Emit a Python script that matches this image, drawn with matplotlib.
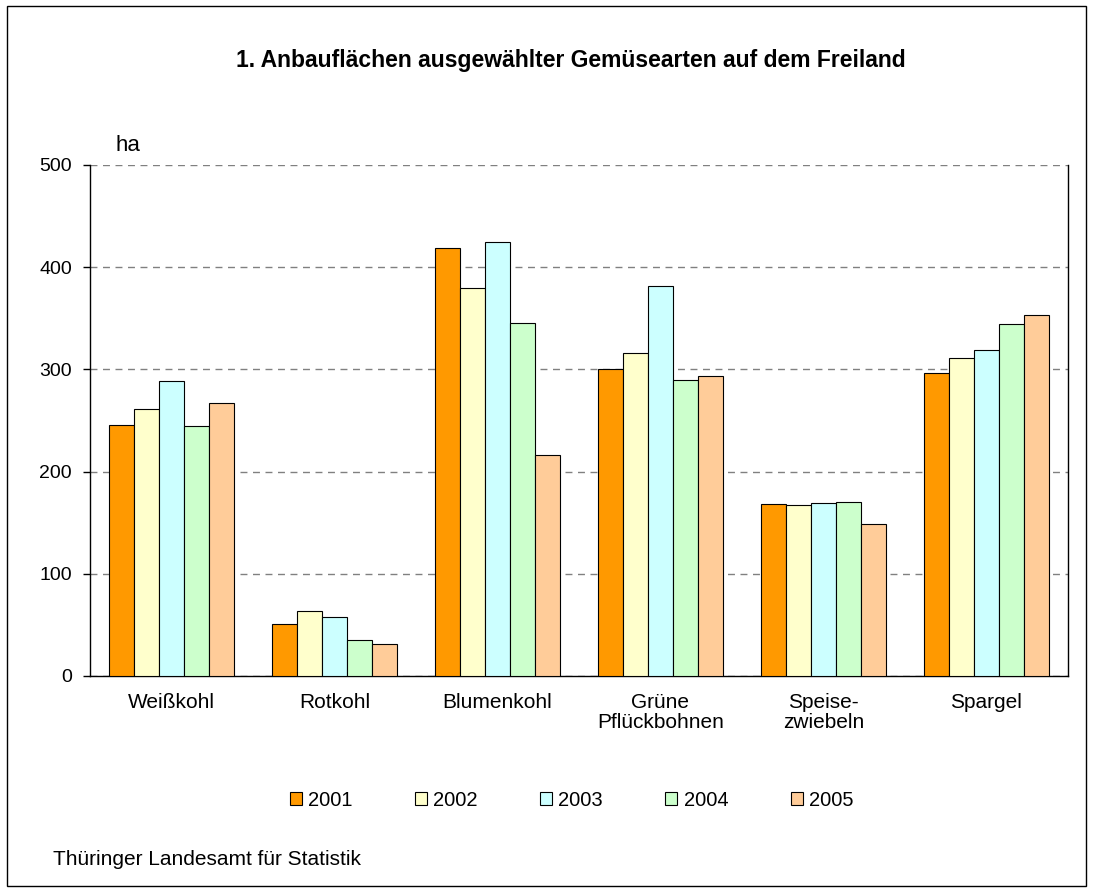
import numpy as np
import matplotlib.pyplot as plt
from matplotlib.patches import Rectangle

plt.rcParams['font.family'] = ['Liberation Sans', 'DejaVu Sans']

categories = ["Weißkohl", "Rotkohl", "Blumenkohl", "Grüne\nPflückbohnen", "Speise-\nzwiebeln", "Spargel"]
years = ["2001", "2002", "2003", "2004", "2005"]
v2001 = [246, 51, 419, 300, 168, 296]
v2002 = [261, 64, 380, 316, 167, 311]
v2003 = [289, 58, 425, 382, 169, 319]
v2004 = [245, 35, 345, 290, 170, 344]
v2005 = [267, 31, 216, 293, 149, 353]
colors = ["#FF9900", "#FFFFCC", "#CCFFFF", "#CCFFCC", "#FFCC99"]

series = [v2001, v2002, v2003, v2004, v2005]

fig = plt.figure(figsize=(10.93, 8.92), dpi=100)
# Rahmen um die ganze Grafik
fig.patches.append(Rectangle((0.0065, 0.0065), 0.987, 0.987, transform=fig.transFigure,
                             fill=False, edgecolor="black", linewidth=1.0))

ax = fig.add_axes([0.0823, 0.2422, 0.8948, 0.5729])

x = np.arange(len(categories))
w = 0.153
for i, (vals, c) in enumerate(zip(series, colors)):
    ax.bar(x + (i - 2) * w, vals, width=w, color=c, edgecolor="black", linewidth=0.8,
           label=years[i], zorder=3)

ax.set_xlim(-0.5, len(categories) - 0.5)
ax.set_ylim(0, 500)
ax.set_yticks([0, 100, 200, 300, 400, 500])
ax.yaxis.grid(True, linestyle=(0, (5, 4)), color="#808080", linewidth=1.0, zorder=0)
ax.set_xticks(x)
ax.set_xticklabels(categories, fontsize=15, linespacing=1.12)
ax.tick_params(axis="x", length=0, pad=12)
ax.tick_params(axis="y", labelsize=14, length=5, width=1, pad=8)
ax.spines["top"].set_visible(False)
for s in ["left", "right", "bottom"]:
    ax.spines[s].set_linewidth(1.0)

fig.text(0.522, 0.932, "1. Anbauflächen ausgewählter Gemüsearten auf dem Freiland",
         ha="center", va="center", fontsize=16.5, fontweight="bold")
fig.text(0.106, 0.837, "ha", ha="left", va="center", fontsize=16)
fig.text(0.0485, 0.036, "Thüringer Landesamt für Statistik", ha="left", va="center", fontsize=15)

fig.legend(loc="center", bbox_to_anchor=(0.523, 0.103), ncol=5, frameon=False,
           fontsize=14.5, handlelength=0.6, handleheight=0.6, handletextpad=0.3,
           columnspacing=3.1, borderpad=0, borderaxespad=0)

plt.savefig("out.png", dpi=100)
